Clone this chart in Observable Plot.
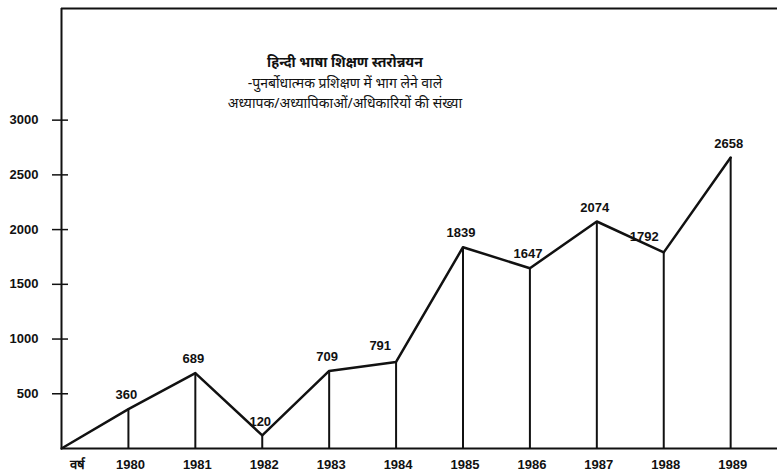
<!DOCTYPE html>
<html>
<head>
<meta charset="utf-8">
<script src="https://cdn.jsdelivr.net/npm/d3@7"></script>
<script src="https://cdn.jsdelivr.net/npm/@observablehq/plot@0.6"></script>
<style>
  html, body { margin: 0; padding: 0; background: #fff; }
  #wrap { position: relative; width: 777px; height: 475px; }
  #title { position: absolute; left: 175px; top: 52px; width: 340px; text-align: center;
           font-family: "Noto Sans", "Lohit Devanagari", sans-serif; font-size: 14px; line-height: 20.5px; color: #111; }
  #title .l1 { font-weight: bold; }
</style>
</head>
<body>
<div id="wrap">
  <div id="chart"></div>
  <div id="title">
    <div class="l1">हिन्दी भाषा शिक्षण स्तरोन्नयन</div>
    <div>-पुनर्बोधात्मक प्रशिक्षण में भाग लेने वाले</div>
    <div>अध्यापक/अध्यापिकाओं/अधिकारियों की संख्या</div>
  </div>
</div>
<script>
const categories = ["वर्ष", "1980", "1981", "1982", "1983", "1984", "1985", "1986", "1987", "1988", "1989"];
const values = [0, 360, 689, 120, 709, 791, 1839, 1647, 2074, 1792, 2658];
const yTicks = [500, 1000, 1500, 2000, 2500, 3000];
const leftLabelled = ["1984", "1988"];

const data = categories.map((c, i) => ({i, label: c, value: values[i]}));
const years = data.filter(d => d.i > 0);

const font = "'Liberation Sans', Arial, sans-serif";

const chart = Plot.plot({
  width: 777,
  height: 475,
  marginLeft: 61,
  marginRight: 0,
  marginTop: 8,
  marginBottom: 27,
  style: {fontFamily: font, fontSize: "13px", fontWeight: "bold", color: "#111", background: "white"},
  x: {type: "linear", domain: [0, 10.7], axis: null},
  y: {domain: [0, 4020], axis: null},
  marks: [
    Plot.axisY({ticks: yTicks, tickSize: 9, tickPadding: 14, tickFormat: d => String(d), label: null, strokeWidth: 1.5, fontWeight: "bold", fontSize: 13}),
    Plot.axisY({ticks: yTicks, tickSize: -7, tickFormat: () => "", label: null, strokeWidth: 1.5}),
    Plot.ruleY([0], {stroke: "#111", strokeWidth: 2}),
    Plot.ruleX([0], {stroke: "#111", strokeWidth: 2}),
    Plot.ruleY([4020], {stroke: "#111", strokeWidth: 2}),
    Plot.ruleX(years, {x: "i", y1: 0, y2: "value", stroke: "#111", strokeWidth: 2}),
    Plot.line(data, {x: "i", y: "value", stroke: "#111", strokeWidth: 2.5}),
    Plot.text(years.filter(d => !leftLabelled.includes(d.label)),
      {x: "i", y: "value", text: d => String(d.value), dy: -14, dx: -2, fontWeight: "bold", fontSize: 13, fill: "#111"}),
    Plot.text(years.filter(d => leftLabelled.includes(d.label)),
      {x: "i", y: "value", text: d => String(d.value), dy: -16, dx: -5, textAnchor: "end", fontWeight: "bold", fontSize: 13, fill: "#111"}),
    Plot.text(years, {x: "i", y: 0, text: "label", dy: 16, dx: 2, fontWeight: "bold", fontSize: 13, fill: "#111"}),
    Plot.text(data.filter(d => d.i === 0), {x: "i", y: 0, text: "label", dy: 16, dx: 16, fontWeight: "bold", fontSize: 13, fill: "#111"})
  ]
});
document.getElementById("chart").appendChild(chart);
</script>
</body>
</html>
